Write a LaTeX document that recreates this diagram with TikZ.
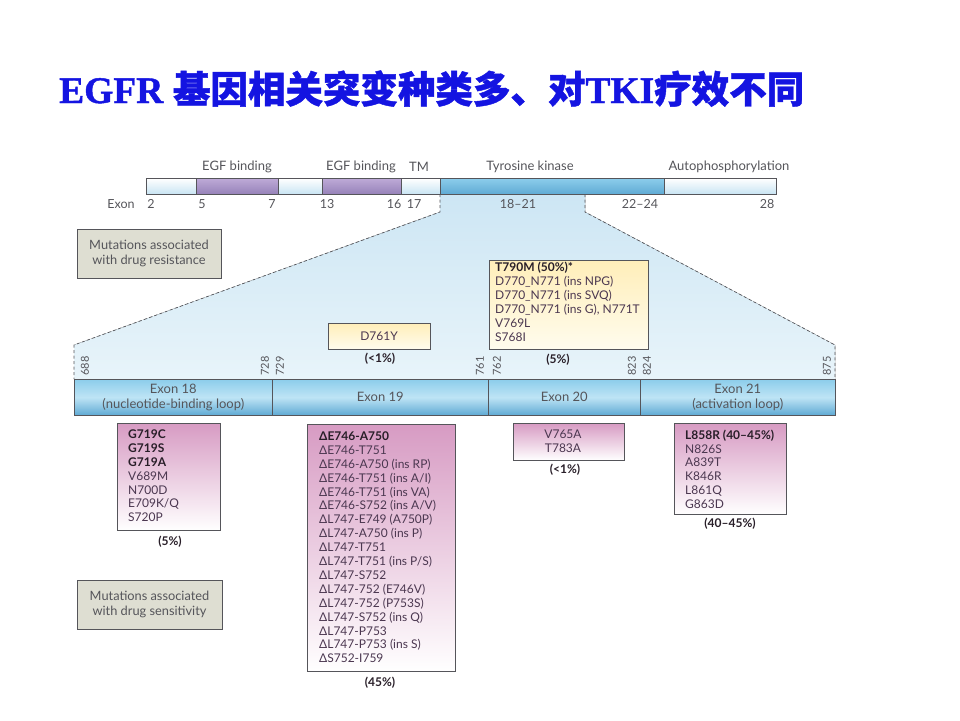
\documentclass[tikz,border=0pt]{standalone}
\usepackage{fontspec}
\setmainfont{Lato}
\newfontfamily\sans{Lato}
\newfontfamily\titleserif{Liberation Serif}[BoldFeatures={FakeBold=1.2}]
\newfontfamily\cjk{Noto Sans CJK SC}[BoldFeatures={FakeBold=1.2}]
\definecolor{txt}{RGB}{75,55,80}
\definecolor{txtb}{RGB}{40,30,40}
\definecolor{lbl}{RGB}{85,85,90}
\definecolor{edge}{RGB}{85,85,90}
\definecolor{pale}{RGB}{200,228,243}
\definecolor{purpT}{RGB}{190,170,215}
\definecolor{purpB}{RGB}{150,130,185}
\definecolor{blueT}{RGB}{140,205,235}
\definecolor{blueM}{RGB}{190,228,245}
\definecolor{blueB}{RGB}{95,170,212}
\definecolor{pinkT}{RGB}{215,155,195}
\definecolor{yelT}{RGB}{255,238,185}
\definecolor{yelB}{RGB}{255,252,238}
\definecolor{legend}{RGB}{222,222,210}
\definecolor{fanT}{RGB}{205,230,244}
\definecolor{fanB}{RGB}{232,244,250}
\definecolor{titleblue}{RGB}{20,20,225}
\tikzset{
  every node/.style={font=\sans\fontsize{12}{13.9}\selectfont, text=txt, inner sep=0pt},
  seg/.style={draw=edge, line width=0.6pt, minimum height=16, anchor=north west},
  lightseg/.style={seg, top color=white, bottom color=pale},
  purpseg/.style={seg, top color=purpT, bottom color=purpB},
  blueseg/.style={seg, top color=blueT, bottom color=blueB},
  exonseg/.style={draw=edge, line width=0.6pt, minimum height=36, anchor=north west,
     top color=blueT, bottom color=blueB, middle color=blueM, align=center, text=lbl,
     font=\sans\fontsize{13}{15}\selectfont},
  toplbl/.style={font=\sans\fontsize{13}{15}\selectfont, text=lbl},
  exnum/.style={font=\sans\fontsize{12.5}{15}\selectfont, text=lbl},
  posnum/.style={font=\sans\fontsize{11}{12}\selectfont, text=lbl, rotate=90},
  mutbox/.style={draw=edge, line width=0.7pt, anchor=north west, top color=pinkT, bottom color=white},
  yelbox/.style={draw=edge, line width=0.7pt, anchor=north west, top color=yelT, bottom color=yelB},
  legbox/.style={draw=edge, line width=0.7pt, fill=legend, align=center, text=lbl,
     font=\sans\fontsize{12.8}{15}\selectfont},
  mutlist/.style={anchor=north west, align=left},
  pct/.style={font=\sans\bfseries\fontsize{12}{13}\selectfont, text=txtb},
  fanline/.style={draw=edge, line width=0.7pt, dash pattern=on 3pt off 2.5pt},
}
\begin{document}
\begin{tikzpicture}[x=1pt,y=-1pt]
\useasboundingbox (0,0) rectangle (960,720);
% title
\node[anchor=base west, text=titleblue, font=\fontsize{37.5}{42}\selectfont] (title) at (59,103)
  {{\titleserif\bfseries EGFR} {\cjk\bfseries 基因相关突变种类多、对}{\titleserif\bfseries TKI}{\cjk\bfseries 疗效不同}};

% fan region
\coordinate (fl0) at (440,194);
\coordinate (fl1) at (440,212);
\coordinate (fl2) at (74,345);
\coordinate (fl3) at (74,379);
\coordinate (fr0) at (585,194);
\coordinate (fr1) at (585,212);
\coordinate (fr2) at (835,345);
\coordinate (fr3) at (835,379);
\fill[top color=fanT, bottom color=fanB] (fl0) -- (fl1) -- (fl2) -- (fl3) -- (fr3) -- (fr2) -- (fr1) -- (fr0) -- cycle;
\draw[fanline] (fl0) -- (fl1) -- (fl2) -- (fl3);
\draw[fanline] (fr0) -- (fr1) -- (fr2) -- (fr3);

% top bar
\node[lightseg, minimum width=50] (s1) at (146,178) {};
\node[purpseg, minimum width=82] (s2) at (196,178) {};
\node[lightseg, minimum width=44] (s3) at (278,178) {};
\node[purpseg, minimum width=79] (s4) at (322,178) {};
\node[lightseg, minimum width=39] (s5) at (401,178) {};
\node[blueseg, minimum width=224] (s6) at (440,178) {};
\node[lightseg, minimum width=112] (s7) at (664,178) {};

\node[toplbl] (egf1) at (237,167) {EGF binding};
\node[toplbl] (egf2) at (361,167) {EGF binding};
\node[toplbl] (tm) at (419,167) {TM};
\node[toplbl] (tk) at (530,167) {Tyrosine kinase};
\node[toplbl] (auto) at (729,167) {Autophosphorylation};

\node[exnum] (exon) at (121,204) {Exon};
\node[exnum] (x2) at (151,204) {2};
\node[exnum] (x5) at (202,204) {5};
\node[exnum] (x7) at (272,204) {7};
\node[exnum] (x13) at (327,204) {13};
\node[exnum] (x16) at (394,204) {16};
\node[exnum] (x17) at (414,204) {17};
\node[exnum] (x18) at (518,204) {18–21};
\node[exnum] (x22) at (640,204) {22–24};
\node[exnum] (x28) at (767,204) {28};

% legend boxes
\node[legbox, minimum width=144, minimum height=49] (resist) at (149,253.5) {Mutations associated\\with drug resistance};
\node[legbox, minimum width=145, minimum height=49] (sensit) at (149.5,604.5) {Mutations associated\\with drug sensitivity};

% exon bar
\node[exonseg, minimum width=198] (e18) at (74,379) {Exon 18\\(nucleotide-binding loop)};
\node[exonseg, minimum width=216] (e19) at (272,379) {Exon 19};
\node[exonseg, minimum width=152] (e20) at (488,379) {Exon 20};
\node[exonseg, minimum width=195] (e21) at (640,379) {Exon 21\\(activation loop)};

\node[posnum] (p688) at (85,366) {688};
\node[posnum] (p728) at (265,366) {728};
\node[posnum] (p729) at (280,366) {729};
\node[posnum] (p761) at (480,366) {761};
\node[posnum] (p762) at (497,366) {762};
\node[posnum] (p823) at (632,366) {823};
\node[posnum] (p824) at (647,366) {824};
\node[posnum] (p875) at (827,366) {875};

% resistance boxes
\node[yelbox, minimum width=102, minimum height=26] (d761) at (328,323) {};
\node (d761t) at (379,336) {D761Y};
\node[pct] (d761p) at (380,359) {(<1\%)};

\node[yelbox, minimum width=159, minimum height=89] (t790) at (489,260) {};
\node[mutlist] (t790t) at (495,262) {{\bfseries\color{txtb}T790M (50\%)*}\\D770\_N771 (ins NPG)\\D770\_N771 (ins SVQ)\\D770\_N771 (ins G), N771T\\V769L\\S768I};
\node[pct] (t790p) at (558,360) {(5\%)};

% sensitivity boxes
\node[mutbox, minimum width=103, minimum height=107] (g719) at (117,423) {};
\node[mutlist] (g719t) at (128,429.5) {{\bfseries\color{txtb}G719C}\\{\bfseries\color{txtb}G719S}\\{\bfseries\color{txtb}G719A}\\V689M\\N700D\\E709K/Q\\S720P};
\node[pct] (g719p) at (170,542) {(5\%)};

\node[mutbox, minimum width=148, minimum height=247] (del19) at (307,424) {};
\node[mutlist] (del19t) at (319,431.5) {{\bfseries\color{txtb}ΔE746-A750}\\ΔE746-T751\\ΔE746-A750 (ins RP)\\ΔE746-T751 (ins A/I)\\ΔE746-T751 (ins VA)\\ΔE746-S752 (ins A/V)\\ΔL747-E749 (A750P)\\ΔL747-A750 (ins P)\\ΔL747-T751\\ΔL747-T751 (ins P/S)\\ΔL747-S752\\ΔL747-752 (E746V)\\ΔL747-752 (P753S)\\ΔL747-S752 (ins Q)\\ΔL747-P753\\ΔL747-P753 (ins S)\\ΔS752-I759};
\node[pct] (del19p) at (380,683) {(45\%)};

\node[mutbox, minimum width=111, minimum height=37] (v765) at (513,423) {};
\node[align=center] (v765t) at (563,441.5) {V765A\\T783A};
\node[pct] (v765p) at (565,470) {(<1\%)};

\node[mutbox, minimum width=112, minimum height=91] (l858) at (674,423) {};
\node[mutlist] (l858t) at (685,429.5) {{\bfseries\color{txtb}L858R (40–45\%)}\\N826S\\A839T\\K846R\\L861Q\\G863D};
\node[pct] (l858p) at (730,524) {(40–45\%)};
\end{tikzpicture}
\end{document}
